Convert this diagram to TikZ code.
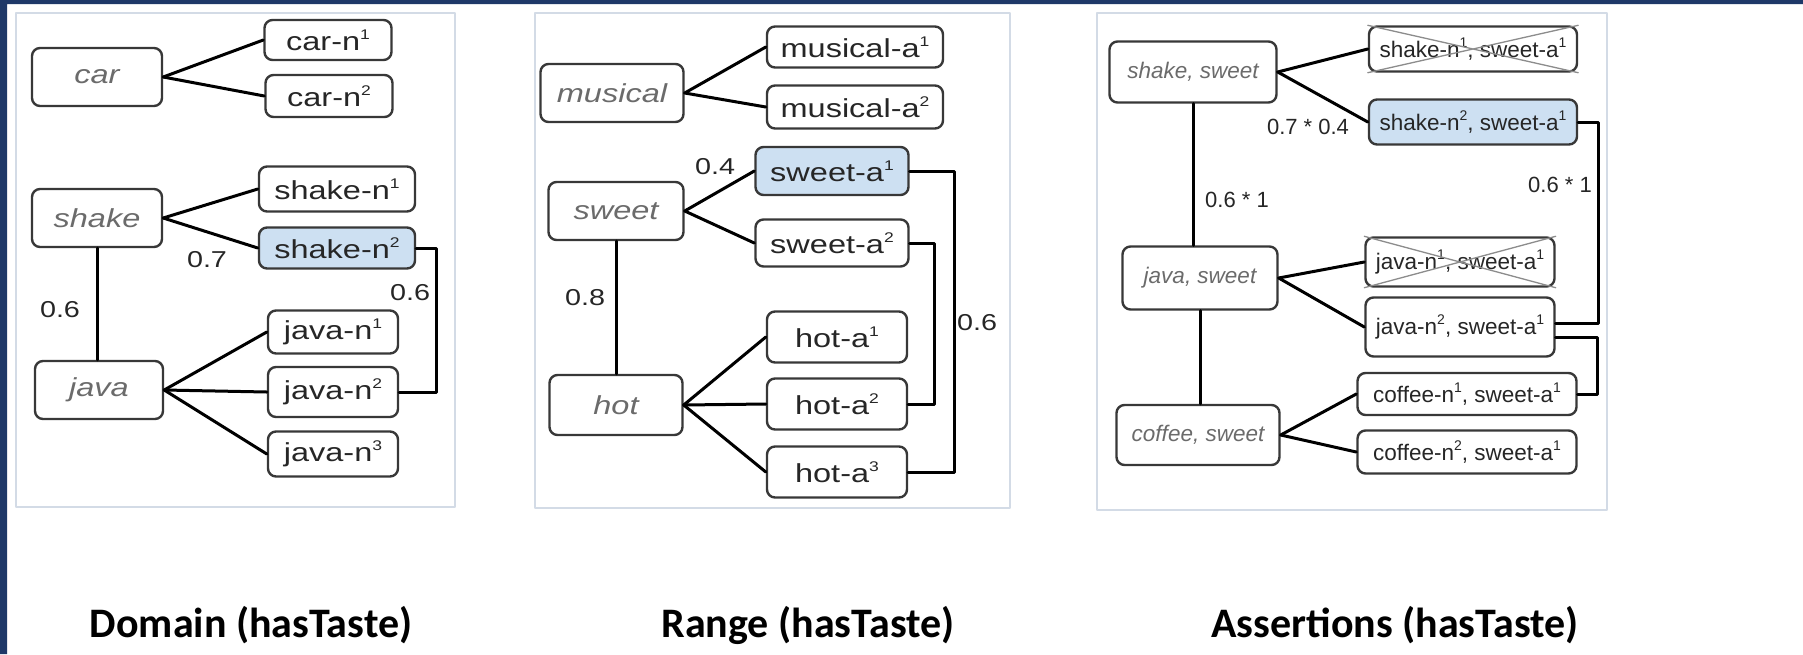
\documentclass[tikz,border=0pt]{standalone}
\usepackage{fontspec}
\setmainfont{Liberation Sans}
\newfontfamily\widefont[FakeStretch=1.25]{Liberation Sans}
\newfontfamily\capfont{Carlito}
\definecolor{navy}{HTML}{1E3868}
\definecolor{boxline}{HTML}{383838}
\definecolor{wordgray}{HTML}{6B6B6B}
\definecolor{pickblue}{HTML}{CDE0F2}
\definecolor{frame}{HTML}{D3DBE6}
\newcommand{\up}[1]{\raisebox{0.42em}{\fontsize{14}{14}\selectfont #1}}
\begin{document}
\begin{tikzpicture}[x=1pt,y=-1pt, line join=round, line cap=round, text=black!85,
	word/.style={draw=boxline, line width=2.4pt, rounded corners=8pt, minimum width=#1,
		minimum height=58pt, inner sep=0pt, text=wordgray, execute at begin node=\itshape},
	sense/.style={draw=boxline, line width=2.4pt, rounded corners=8pt, minimum width=#1,
		minimum height=45pt, inner sep=0pt},
	pick/.style={fill=pickblue},
	link/.style={line width=3pt, black},
	cross/.style={line width=1.3pt, black!45},
	panel/.style={draw=frame, line width=2.5pt, fill=white},
	caption/.style={anchor=base, font=\capfont\bfseries\fontsize{42}{48}\selectfont, text=black}]
	\useasboundingbox (0,0) rectangle (1803,654);
	\fill[white] (0,0) rectangle (1803,654);
	\fill[navy] (0,0) rectangle (7,654) (0,0) rectangle (1803,4);
	\draw[panel] (16,13) rectangle (455,507);
	\draw[panel] (535,13) rectangle (1010,508);
	\draw[panel] (1097,13) rectangle (1607,510);
	\begin{scope}[font=\widefont\fontsize{26}{30}\selectfont]
	% Domain
	\node (car) at (97,77) [word=130pt]{car};
	\node (carn1) at (328,40) [sense=127pt, minimum height=40pt]{car-n\up1};
	\node (carn2) at (329,96) [sense=127pt, minimum height=42pt]{car-n\up2};
	\node (shake) at (97,218) [word=130pt]{shake};
	\node (shaken1) at (337,189) [sense=156pt]{shake-n\up1};
	\node (shaken2) at (337,248) [sense=156pt, pick, minimum height=41pt]{shake-n\up2};
	\node (java) at (99,390) [word=128pt]{java};
	\foreach \i/\y/\h in {1/332/43, 2/392/50, 3/454/45}
		\node (javan\i) at (333,\y) [sense=130pt, minimum height=\h pt]{java-n\up\i};
	% Range
	\node (musical) at (612,93) [word=143pt]{musical};
	\node (musa1) at (855,47) [sense=176pt, minimum height=41pt]{musical-a\up1};
	\node (musa2) at (855,107) [sense=176pt, minimum height=43pt]{musical-a\up2};
	\node (sweet) at (616,211) [word=135pt]{sweet};
	\node (sweeta1) at (832,171) [sense=153pt, pick, minimum height=48pt]{sweet-a\up1};
	\node (sweeta2) at (832,243) [sense=153pt, minimum height=47pt]{sweet-a\up2};
	\node (hot) at (616,405) [word=133pt, minimum height=60pt]{hot};
	\foreach \i/\y in {1/337, 2/404, 3/472}
		\node (hota\i) at (837,\y) [sense=140pt, minimum height=51pt]{hot-a\up\i};
	\end{scope}
	% Assertions
	\begin{scope}[font=\fontsize{22.5}{26}\selectfont]
	\node (shsw) at (1193,72) [word=167pt, minimum height=61pt]{shake, sweet};
	\node (as1) at (1473,49) [sense=208pt]{shake-n\up1, sweet-a\up1};
	\node (as2) at (1473,122) [sense=208pt, pick]{shake-n\up2, sweet-a\up1};
	\node (jasw) at (1200,278) [word=155pt, minimum height=63pt]{java, sweet};
	\node (aj1) at (1460,262) [sense=189pt, minimum height=49pt]{java-n\up1, sweet-a\up1};
	\node (aj2) at (1460,327) [sense=189pt, minimum height=59pt]{java-n\up2, sweet-a\up1};
	\node (cosw) at (1198,435) [word=163pt, minimum height=60pt]{coffee, sweet};
	\node (ac1) at (1467,394) [sense=219pt, minimum height=42pt]{coffee-n\up1, sweet-a\up1};
	\node (ac2) at (1467,452) [sense=219pt, minimum height=43pt]{coffee-n\up2, sweet-a\up1};
	\end{scope}
	\foreach \n in {as1,aj1}
		\draw[cross] (\n.north west)--(\n.south east) (\n.south west)--(\n.north east);
	% connectors
	\foreach \a/\b in {car/carn1, car/carn2, shake/shaken1, shake/shaken2, java/javan1, java/javan2, java/javan3,
		musical/musa1, musical/musa2, sweet/sweeta1, sweet/sweeta2, hot/hota1, hot/hota2, hot/hota3,
		shsw/as1, shsw/as2, jasw/aj1, jasw/aj2, cosw/ac1, cosw/ac2}
		\draw[link] (\a.east)--(\b.west);
	\draw[link] (shake.south)--(shake.south |- java.north);
	\draw[link] (sweet.south)--(sweet.south |- hot.north);
	\draw[link] (shsw.south)--(shsw.south |- jasw.north);
	\draw[link] (jasw.south)--(jasw.south |- cosw.north);
	\draw[link] (shaken2.east)--++(20,0) |- (javan2.east);
	\draw[link] (sweeta2.east)--++(25,0) |- (hota2.east);
	\draw[link] (sweeta1.east)--++(45,0) |- (hota3.east);
	\draw[link] (as2.east)--++(20,0) |- ([yshift=4pt]aj2.east);
	\draw[link] ([yshift=-10pt]aj2.east) -| ([xshift=20pt]ac1.east)--(ac1.east);
	% weights
	\begin{scope}[font=\widefont\fontsize{23}{27}\selectfont]
	\node (w1) at (207,260) {0.7};
	\node (w2) at (60,310) {0.6};
	\node (w3) at (410,293) {0.6};
	\node (w4) at (715,167) {0.4};
	\node (w5) at (585,298) {0.8};
	\node (w6) at (977,323) {0.6};
	\end{scope}
	\begin{scope}[font=\fontsize{22}{26}\selectfont]
	\node (w7) at (1308,127) {0.7 * 0.4};
	\node (w8) at (1237,200) {0.6 * 1};
	\node (w9) at (1560,185) {0.6 * 1};
	\end{scope}
	% captions
	\node (cap1) at (251,637) [caption]{Domain (hasTaste)};
	\node (cap2) at (808,637) [caption]{Range (hasTaste)};
	\node (cap3) at (1395,637) [caption]{Assertions (hasTaste)};
\end{tikzpicture}
\end{document}
